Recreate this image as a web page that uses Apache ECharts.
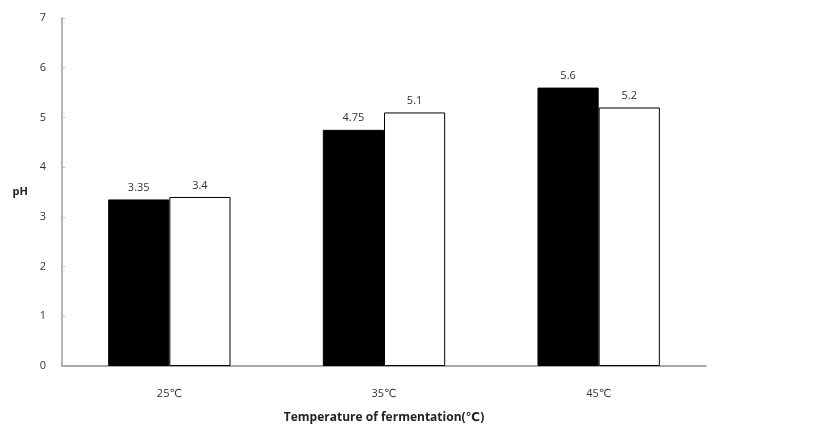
<!DOCTYPE html>
<html>
<head>
<meta charset="utf-8">
<script src="https://cdn.jsdelivr.net/npm/echarts@6/dist/echarts.min.js"></script>
<style>html,body{margin:0;padding:0;background:#fff;}#c{width:827px;height:438px;}</style>
</head>
<body>
<div id="c"></div>
<script>
const categories = ['25℃', '35℃', '45℃'];
const seriesA = [3.35, 4.75, 5.6];
const seriesB = [3.4, 5.1, 5.2];
const yTicks = [0, 1, 2, 3, 4, 5, 6, 7];

const chart = echarts.init(document.getElementById('c'), null, {renderer: 'canvas'});
const font = '"Open Sans", "DejaVu Sans", sans-serif';
const labelCommon = {show: true, position: 'top', color: '#333', fontSize: 11, fontFamily: font, distance: 6};
chart.setOption({
  animation: false,
  backgroundColor: '#fff',
  grid: {left: 62, right: 121, top: 18, bottom: 72},
  xAxis: {
    type: 'category',
    data: categories,
    axisLine: {lineStyle: {color: '#8a8a8a', width: 1.5}},
    axisTick: {show: false},
    axisLabel: {color: '#333', fontSize: 11, fontFamily: font, margin: 22},
    name: 'Temperature of fermentation(℃)',
    nameLocation: 'middle',
    nameGap: 46,
    nameTextStyle: {color: '#222', fontSize: 12, fontWeight: 'bold', fontFamily: font}
  },
  yAxis: {
    type: 'value',
    min: yTicks[0],
    max: yTicks[yTicks.length - 1],
    interval: 1,
    axisLine: {show: true, lineStyle: {color: '#9a9a9a', width: 1.5}},
    axisTick: {show: true, inside: true, length: 3, lineStyle: {color: '#bbb'}},
    splitLine: {show: false},
    axisLabel: {color: '#333', fontSize: 11, fontFamily: font, margin: 16},
    name: 'pH',
    nameLocation: 'middle',
    nameRotate: 0,
    nameGap: 34,
    nameTextStyle: {color: '#222', fontSize: 11, fontWeight: 'bold', fontFamily: font, padding: [6, 0, 0, 0]}
  },
  series: [
    {type: 'bar', data: seriesA, barGap: '0%', barCategoryGap: '43%',
     itemStyle: {color: '#000', borderColor: '#000', borderWidth: 1}, label: labelCommon},
    {type: 'bar', data: seriesB, barGap: '0%', barCategoryGap: '43%',
     itemStyle: {color: '#fff', borderColor: '#000', borderWidth: 1}, label: labelCommon}
  ]
});
</script>
</body>
</html>
